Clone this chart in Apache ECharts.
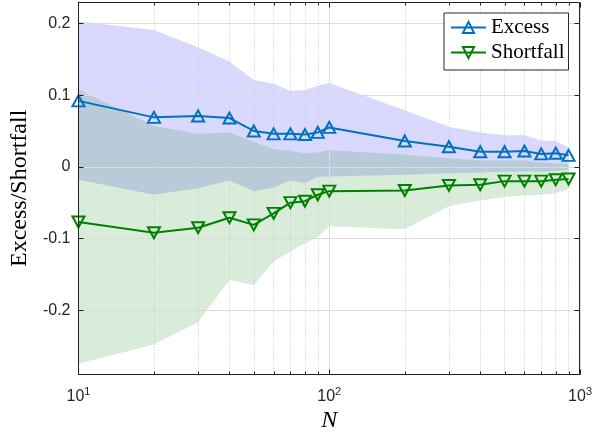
<!DOCTYPE html>
<html><head><meta charset="utf-8">
<script src="https://cdn.jsdelivr.net/npm/echarts@6/dist/echarts.min.js"></script>
<style>html,body{margin:0;padding:0;background:#fff}#c{width:595px;height:438px}</style>
</head><body><div id="c"></div>
<script>
const N = [10,20,30,40,50,60,70,80,90,100,200,300,400,500,600,700,800,900];
const excess = [0.092,0.069,0.071,0.068,0.050,0.046,0.046,0.045,0.048,0.055,0.036,0.028,0.021,0.021,0.022,0.018,0.019,0.016];
const shortfall = [-0.077,-0.092,-0.085,-0.071,-0.081,-0.065,-0.050,-0.048,-0.039,-0.034,-0.033,-0.026,-0.025,-0.020,-0.020,-0.020,-0.018,-0.017];
const excessHi = [0.203,0.191,0.167,0.147,0.121,0.116,0.106,0.107,0.113,0.117,0.079,0.056,0.048,0.044,0.044,0.037,0.036,0.027];
const excessLo = [-0.018,-0.039,-0.030,-0.019,-0.034,-0.029,-0.019,-0.023,-0.014,-0.0135,-0.011,-0.009,-0.008,-0.007,-0.0065,-0.007,-0.006,-0.004];
const shortHi = [0.108,0.057,0.046,0.048,0.035,0.025,0.022,0.019,0.020,0.023,0.017,0.012,0.009,0.009,0.009,0.006,0.005,0.004];
const shortLo = [-0.275,-0.248,-0.217,-0.158,-0.165,-0.132,-0.118,-0.107,-0.098,-0.083,-0.087,-0.055,-0.047,-0.042,-0.040,-0.039,-0.037,-0.031];
const yTicks = [-0.2,-0.1,0,0.1,0.2];
const xMajor = [10,100,1000];
const xMinor = [20,30,40,50,60,70,80,90,200,300,400,500,600,700,800,900];
const yMin = -0.29, yMax = 0.23;

const AX = '#202020';
const chart = echarts.init(document.getElementById('c'), null, {renderer:'canvas'});

function band(lo, hi, color, name){
  return {
    type:'custom', name:name, xAxisIndex:0, yAxisIndex:0, silent:true, z:1,
    data: N.map((n,i)=>[n, lo[i], hi[i]]),
    encode:{x:0, y:[1,2]},
    renderItem:function(params, api){
      if (params.dataIndexInside !== 0) return null;
      const pts = [];
      for (let i=0;i<N.length;i++) pts.push(api.coord([N[i], hi[i]]));
      for (let i=N.length-1;i>=0;i--) pts.push(api.coord([N[i], lo[i]]));
      return {type:'polygon', shape:{points:pts}, style:{fill:color, stroke:null}};
    }
  };
}

// box with inward ticks on all four sides
const frame = {
  type:'custom', name:'frame', xAxisIndex:0, yAxisIndex:0, silent:true, z:20,
  data:[[10, 0]], encode:{x:0, y:1}, clip:false,
  renderItem:function(params, api){
    const tl = api.coord([10, yMax]), br = api.coord([1000, yMin]);
    const L = Math.round(tl[0]) + 0.5, R = Math.round(br[0]) - 0.5;
    const T = Math.round(tl[1]) + 0.5, B = Math.round(br[1]) - 0.5;
    const st = {stroke:AX, lineWidth:1, fill:null};
    const kids = [
      {type:'line', shape:{x1:L, y1:T, x2:R, y2:T}, style:st},
      {type:'line', shape:{x1:R, y1:T, x2:R, y2:B}, style:st},
      {type:'line', shape:{x1:L, y1:B, x2:R, y2:B}, style:st},
      {type:'line', shape:{x1:L, y1:T, x2:L, y2:B}, style:st}
    ];
    function xt(v, len){
      const px = Math.round(api.coord([v, 0])[0]) + 0.5;
      kids.push({type:'line', shape:{x1:px, y1:B, x2:px, y2:B-len}, style:st});
      kids.push({type:'line', shape:{x1:px, y1:T, x2:px, y2:T+len}, style:st});
    }
    xMajor.forEach(v=>xt(v,5));
    xMinor.forEach(v=>xt(v,3));
    yTicks.forEach(v=>{
      const py = Math.round(api.coord([10, v])[1]) + 0.5;
      kids.push({type:'line', shape:{x1:L, y1:py, x2:L+5, y2:py}, style:st});
      kids.push({type:'line', shape:{x1:R, y1:py, x2:R-5, y2:py}, style:st});
    });
    return {type:'group', children:kids};
  }
};

const gridLines = [];
yTicks.forEach(v=>gridLines.push({yAxis:v, lineStyle:{color:'#dcdcdc', width:1, type:'solid'}}));
xMajor.forEach(v=>gridLines.push({xAxis:v, lineStyle:{color:'#dcdcdc', width:1, type:'solid'}}));
xMinor.forEach(v=>gridLines.push({xAxis:v, lineStyle:{color:'#c8c8c8', width:1, type:[1,2]}}));

chart.setOption({
  animation:false,
  backgroundColor:'#fff',
  grid:{left:76, right:14, top:2, bottom:62, containLabel:false},
  xAxis:{
    type:'log', logBase:10, min:10, max:1000, position:'bottom',
    axisLine:{show:true, onZero:false, lineStyle:{color:AX, width:1}},
    axisTick:{show:false},
    axisLabel:{
      show:true, customValues:xMajor, margin:12, color:'#262626',
      formatter:function(v){ return '{b|10}{s|' + Math.round(Math.log10(v)) + '}'; },
      rich:{ b:{fontFamily:'Liberation Sans', fontSize:16, color:'#262626'}, s:{fontFamily:'Liberation Sans', fontSize:11, color:'#262626', verticalAlign:'top', padding:[0,0,8,0]} }
    },
    splitLine:{show:false}, minorTick:{show:false}, minorSplitLine:{show:false},
    name:'N', nameLocation:'middle', nameGap:33,
    nameTextStyle:{fontFamily:'Liberation Serif', fontStyle:'italic', fontSize:24, color:'#000'}
  },
  yAxis:{
    type:'value', min:yMin, max:yMax, position:'left',
    axisLine:{show:true, onZero:false, lineStyle:{color:AX, width:1}},
    axisTick:{show:false},
    axisLabel:{show:true, customValues:yTicks, margin:8, color:'#262626', fontFamily:'Liberation Sans', fontSize:16,
      formatter:function(v){ return Math.abs(v)<1e-9 ? '0' : v.toFixed(1); }},
    splitLine:{show:false},
    name:'Excess/Shortfall', nameLocation:'middle', nameGap:45,
    nameTextStyle:{fontFamily:'Liberation Serif', fontSize:24, color:'#000'}
  },
  legend:{
    data:['Excess','Shortfall'], orient:'vertical', left:444, top:13, z:30,
    itemWidth:35, itemHeight:14, itemGap:4, padding:[4,4,7,6],
    backgroundColor:'#fff', borderColor:'#262626', borderWidth:1, borderRadius:0,
    textStyle:{fontFamily:'Liberation Serif', fontSize:21, color:'#000'}
  },
  series:[
    {type:'line', name:'grid', data:[], silent:true, z:0, symbol:'none',
      markLine:{silent:true, symbol:'none', label:{show:false}, animation:false, data:gridLines}},
    band(excessLo, excessHi, 'rgba(0,0,255,0.15)', 'bandE'),
    band(shortLo, shortHi, 'rgba(0,128,0,0.15)', 'bandS'),
    {type:'line', name:'Excess', data:N.map((n,i)=>[n, excess[i]]), z:5,
      symbol:'triangle', symbolSize:[12,11], showAllSymbol:true,
      lineStyle:{color:'#0072BD', width:2},
      itemStyle:{color:'rgba(255,255,255,0)', borderColor:'#0072BD', borderWidth:2}},
    {type:'line', name:'Shortfall', data:N.map((n,i)=>[n, shortfall[i]]), z:5,
      symbol:'triangle', symbolRotate:180, symbolSize:[12,11], showAllSymbol:true,
      lineStyle:{color:'#008000', width:2},
      itemStyle:{color:'rgba(255,255,255,0)', borderColor:'#008000', borderWidth:2}},
    frame
  ]
});
</script></body></html>
